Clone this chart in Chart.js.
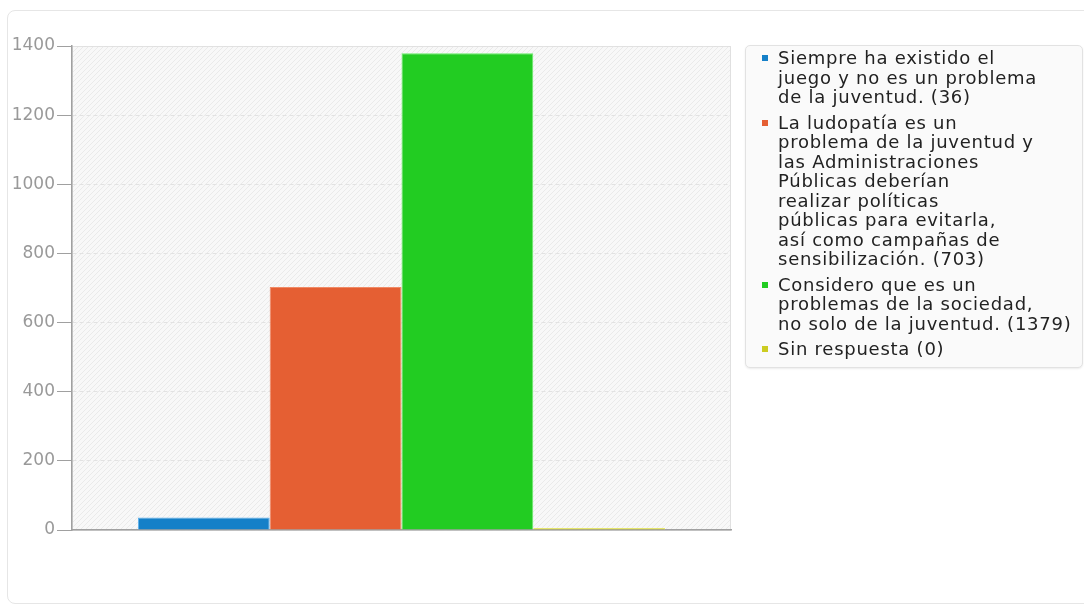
<!DOCTYPE html>
<html lang="es">
<head>
    <meta charset="UTF-8">
    <title>Encuesta ludopatía</title>
    <script src="https://cdn.jsdelivr.net/npm/chart.js"></script>
    <style>
        html, body { margin: 0; padding: 0; background: #fff; overflow: hidden; }
        #card {
            position: absolute; left: 7px; top: 10px; width: 1100px; height: 594px;
            border: 1px solid #e6e6e6; border-radius: 8px; box-sizing: border-box;
        }
        #chart { position: absolute; left: 0; top: 0; }
        #legend {
            position: absolute; left: 745px; top: 45px; width: 338px; height: 323px;
            box-sizing: border-box; padding: 2px 6px 8px 14px;
            background: #fafafa; border: 1px solid #e2e2e2; border-radius: 5px;
            box-shadow: 0 1px 2px rgba(0,0,0,0.08);
            font-family: "DejaVu Sans", sans-serif; font-size: 18px; color: #222;
            letter-spacing: 0.75px;
        }
        .item { position: relative; padding-left: 18px; margin-bottom: 6px; white-space: pre-line; line-height: 19.5px; }
        .item .mark { position: absolute; left: 2px; top: 7px; width: 6px; height: 6px; }
    </style>
</head>
<body>
    <div id="card"></div>
    <canvas id="chart" width="1084" height="607"></canvas>
    <div id="legend"></div>

    <script>
        // Datos
        const categories = [
            'Siempre ha existido el\njuego y no es un problema\nde la juventud.',
            'La ludopatía es un\nproblema de la juventud y\nlas Administraciones\nPúblicas deberían\nrealizar políticas\npúblicas para evitarla,\nasí como campañas de\nsensibilización.',
            'Considero que es un\nproblemas de la sociedad,\nno solo de la juventud.',
            'Sin respuesta'
        ];
        const counts = [36, 703, 1379, 0];
        const colors = ['#1580c8', '#e55f33', '#22cc22', '#cccc22'];
        const borders = ['#5bb0ee', '#f08a66', '#66ee66', '#eeee66'];
        const yTicks = [0, 200, 400, 600, 800, 1000, 1200, 1400];

        // Leyenda HTML
        document.getElementById('legend').innerHTML = categories.map((c, i) => `
            <div class="item"><span class="mark" style="background:${colors[i]}"></span>${c} (${counts[i]})</div>
        `).join('');

        // Fondo rayado del área de trazado
        function hatch() {
            const p = document.createElement('canvas');
            p.width = 5; p.height = 5;
            const g = p.getContext('2d');
            g.fillStyle = '#f8f8f8';
            g.fillRect(0, 0, 5, 5);
            g.strokeStyle = '#eaeaea';
            g.lineWidth = 1;
            g.beginPath();
            g.moveTo(0, 5); g.lineTo(5, 0);
            g.moveTo(-2.5, 2.5); g.lineTo(2.5, -2.5);
            g.moveTo(2.5, 7.5); g.lineTo(7.5, 2.5);
            g.stroke();
            return p;
        }

        const plotBg = {
            id: 'plotBg',
            beforeDraw(chart) {
                const { ctx, chartArea: a } = chart;
                ctx.save();
                ctx.fillStyle = ctx.createPattern(hatch(), 'repeat');
                ctx.fillRect(a.left, a.top, a.right - a.left, a.bottom - a.top);
                ctx.strokeStyle = '#e0e0e0';
                ctx.lineWidth = 1;
                ctx.strokeRect(a.left + 0.5, a.top + 0.5, a.right - a.left - 1, a.bottom - a.top);
                ctx.restore();
            }
        };

        new Chart(document.getElementById('chart').getContext('2d'), {
            type: 'bar',
            data: {
                labels: [''],
                datasets: categories.map((c, i) => ({
                    label: c,
                    data: [counts[i]],
                    backgroundColor: colors[i],
                    borderColor: borders[i],
                    borderWidth: 1,
                    minBarLength: counts[i] === 0 ? 2 : 0,
                    categoryPercentage: 0.8,
                    barPercentage: 1.0
                }))
            },
            options: {
                responsive: false,
                animation: false,
                layout: { padding: { left: 0, top: 46, right: 353, bottom: 77 } },
                plugins: { legend: { display: false }, tooltip: { enabled: false } },
                scales: {
                    x: {
                        ticks: { display: false },
                        grid: { display: false },
                        border: { color: '#a0a0a0', width: 1.5 },
                        afterFit(s) { s.height = 0; }
                    },
                    y: {
                        min: 0,
                        max: 1400,
                        afterBuildTicks(s) { s.ticks = yTicks.map(v => ({ value: v })); },
                        afterFit(s) { s.width = 72; },
                        ticks: {
                            padding: 2,
                            color: '#999',
                            font: { family: 'DejaVu Sans', size: 17 },
                            callback: v => String(v)
                        },
                        grid: {
                            color: '#e2e2e2',
                            tickColor: '#a0a0a0',
                            tickLength: 15,
                            tickWidth: 1,
                            tickBorderDash: []
                        },
                        border: { color: '#a0a0a0', width: 1.5, dash: [4, 3] }
                    }
                }
            },
            plugins: [plotBg]
        });
    </script>
</body>
</html>
